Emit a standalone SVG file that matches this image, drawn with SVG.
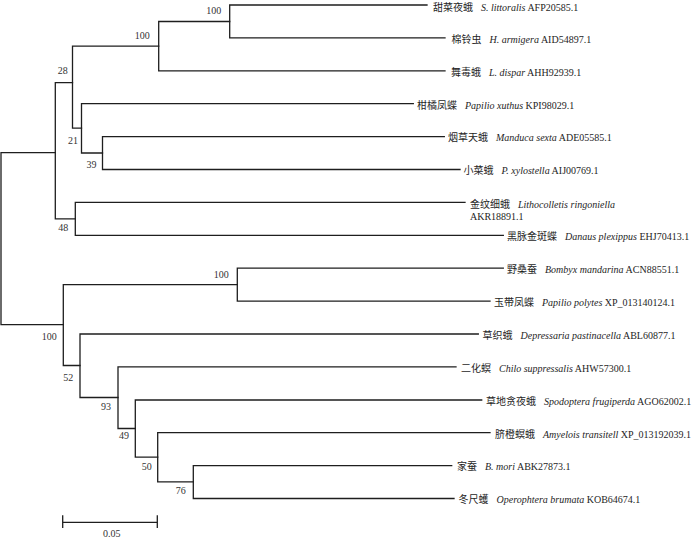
<svg xmlns="http://www.w3.org/2000/svg" width="700" height="540" viewBox="0 0 700 540">
<style>
.br{fill:none;stroke:#1e1e1e;stroke-width:1.3;stroke-linecap:square}
.lbl{font-family:"Liberation Serif","Noto Sans CJK SC",serif;font-size:10px;fill:#1e1e1e}
.cn{font-family:"Noto Sans CJK SC",sans-serif;font-size:10px}
.sp{font-style:italic}
.bs{font-family:"Liberation Serif",serif;font-size:10px;text-anchor:middle;fill:#333}
</style>
<rect width="700" height="540" fill="#fff"/>
<g id="connectors">
<path class="br" d="M1 152.7V324.7M1 152.7H55.3M1 324.7H63.3"/>
<path class="br" d="M55.3 82.7V218.9M55.3 82.7H72.5M55.3 218.9H75.3"/>
<path class="br" d="M72.5 46.2V128.2M72.5 46.2H158.7M72.5 128.2H81.5"/>
<path class="br" d="M158.7 21.5V70.8M158.7 21.5H229.7M158.7 70.8H445"/>
<path class="br" d="M229.7 5V37.9M229.7 5H427M229.7 37.9H445"/>
<path class="br" d="M81.5 103.7V153M81.5 103.7H413.3M81.5 153H102.5"/>
<path class="br" d="M102.5 136.6V169.5M102.5 136.6H444.3M102.5 169.5H460"/>
<path class="br" d="M75.3 202.4V235.3M75.3 202.4H465M75.3 235.3H503.3"/>
<path class="br" d="M63.3 284.6V365.5M63.3 284.6H237.3M63.3 365.5H80"/>
<path class="br" d="M237.3 268.2V301.1M237.3 268.2H503.3M237.3 301.1H490"/>
<path class="br" d="M80 334V397.5M80 334H478.3M80 397.5H118"/>
<path class="br" d="M118 366.8V428.5M118 366.8H456M118 428.5H135.3"/>
<path class="br" d="M135.3 400V457.2M135.3 400H481.7M135.3 457.2H157.7"/>
<path class="br" d="M157.7 432.7V481.8M157.7 432.7H490M157.7 481.8H193.3"/>
<path class="br" d="M193.3 465.6V498.5M193.3 465.6H451.7M193.3 498.5H454"/>
</g>
<g id="support">
<text class="bs" x="213.8" y="14.2">100</text>
<text class="bs" x="142.3" y="39.2">100</text>
<text class="bs" x="62.7" y="73.5">28</text>
<text class="bs" x="73" y="143.5">21</text>
<text class="bs" x="91.5" y="167.8">39</text>
<text class="bs" x="63.3" y="231.2">48</text>
<text class="bs" x="221.3" y="277.8">100</text>
<text class="bs" x="49.2" y="339.5">100</text>
<text class="bs" x="68.3" y="380.8">52</text>
<text class="bs" x="106" y="410.2">93</text>
<text class="bs" x="124" y="439.2">49</text>
<text class="bs" x="146.7" y="470.2">50</text>
<text class="bs" x="180.7" y="494.2">76</text>
</g>
<g id="leaf-0"><text class="lbl" x="433" y="10.5"><tspan class="cn">甜菜夜蛾</tspan><tspan class="sp" dx="8">S. littoralis</tspan> AFP20585.1</text></g>
<g id="leaf-1"><text class="lbl" x="451.5" y="42.7"><tspan class="cn">棉铃虫</tspan><tspan class="sp" dx="8">H. armigera</tspan> AID54897.1</text></g>
<g id="leaf-2"><text class="lbl" x="451" y="75.6"><tspan class="cn">舞毒蛾</tspan><tspan class="sp" dx="8">L. dispar</tspan> AHH92939.1</text></g>
<g id="leaf-3"><text class="lbl" x="417" y="108.5"><tspan class="cn">柑橘凤蝶</tspan><tspan class="sp" dx="8">Papilio xuthus</tspan> KPI98029.1</text></g>
<g id="leaf-4"><text class="lbl" x="448" y="141.4"><tspan class="cn">烟草天蛾</tspan><tspan class="sp" dx="8">Manduca sexta</tspan> ADE05585.1</text></g>
<g id="leaf-5"><text class="lbl" x="463.5" y="174.3"><tspan class="cn">小菜蛾</tspan><tspan class="sp" dx="8">P. xylostella</tspan> AIJ00769.1</text></g>
<g id="leaf-6"><text class="lbl" x="470" y="207.5"><tspan class="cn">金纹细蛾</tspan><tspan class="sp" dx="8">Lithocolletis ringoniella</tspan></text><text class="lbl" x="470" y="219.8">AKR18891.1</text></g>
<g id="leaf-7"><text class="lbl" x="507" y="240.1"><tspan class="cn">黑脉金斑蝶</tspan><tspan class="sp" dx="8">Danaus plexippus</tspan> EHJ70413.1</text></g>
<g id="leaf-8"><text class="lbl" x="507" y="273"><tspan class="cn">野桑蚕</tspan><tspan class="sp" dx="8">Bombyx mandarina</tspan> ACN88551.1</text></g>
<g id="leaf-9"><text class="lbl" x="494" y="305.9"><tspan class="cn">玉带凤蝶</tspan><tspan class="sp" dx="8">Papilio polytes</tspan> XP_013140124.1</text></g>
<g id="leaf-10"><text class="lbl" x="482.5" y="338.8"><tspan class="cn">草织蛾</tspan><tspan class="sp" dx="8">Depressaria pastinacella</tspan> ABL60877.1</text></g>
<g id="leaf-11"><text class="lbl" x="461" y="371.6"><tspan class="cn">二化螟</tspan><tspan class="sp" dx="8">Chilo suppressalis</tspan> AHW57300.1</text></g>
<g id="leaf-12"><text class="lbl" x="486" y="404.8"><tspan class="cn">草地贪夜蛾</tspan><tspan class="sp" dx="8">Spodoptera frugiperda</tspan> AGO62002.1</text></g>
<g id="leaf-13"><text class="lbl" x="495" y="437.5"><tspan class="cn">脐橙螟蛾</tspan><tspan class="sp" dx="8">Amyelois transitell</tspan> XP_013192039.1</text></g>
<g id="leaf-14"><text class="lbl" x="457" y="470.4"><tspan class="cn">家蚕</tspan><tspan class="sp" dx="8">B. mori</tspan> ABK27873.1</text></g>
<g id="leaf-15"><text class="lbl" x="458.5" y="503.3"><tspan class="cn">冬尺蠖</tspan><tspan class="sp" dx="8">Operophtera brumata</tspan> KOB64674.1</text></g>
<g id="scale-bar">
<path class="br" d="M62.7 522.3H157.3M62.7 516V527.3M157.3 516V527.3"/>
<text class="bs" x="111.7" y="536.8">0.05</text>
</g>
</svg>
